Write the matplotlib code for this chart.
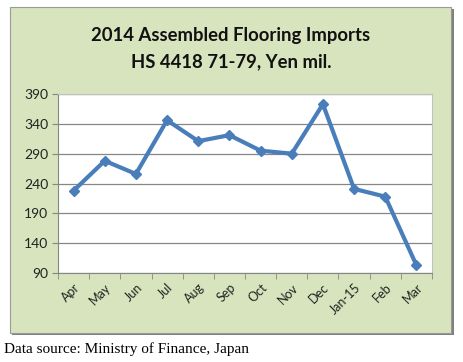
import matplotlib
matplotlib.use('Agg')
import matplotlib.pyplot as plt
from matplotlib.patches import Rectangle

# Monthly imports, Yen mil.
months = ['Apr', 'May', 'Jun', 'Jul', 'Aug', 'Sep', 'Oct', 'Nov', 'Dec',
          'Jan-15', 'Feb', 'Mar']
values = [228, 278, 256, 346, 311, 321, 295, 290, 373, 231, 218, 103]
yticks = [90, 140, 190, 240, 290, 340, 390]

W, H = 463, 362
fig = plt.figure(figsize=(W / 100, H / 100), dpi=100)
fig.patch.set_facecolor('white')

# green chart panel with a gray border and shadow
fig.patches.append(Rectangle((12 / W, 1 - 335 / H), 442 / W, 326 / H,
                             transform=fig.transFigure, facecolor='#7f7f7f',
                             edgecolor='none', zorder=-2))
fig.patches.append(Rectangle((10 / W, 1 - 333 / H), 441 / W, 326 / H,
                             transform=fig.transFigure, facecolor='#d7e4bd',
                             edgecolor='#9a9a9a', linewidth=0.8, zorder=-1))

ax = fig.add_axes([58 / W, 1 - 273 / H, 374 / W, 179 / H])
ax.set_zorder(2)
ax.set_facecolor('white')
x = list(range(len(months)))
ax.plot(x, values, color='#4a7ebb', linewidth=3, marker='D', markersize=5,
        solid_joinstyle='round', zorder=3)

ax.set_xlim(-0.5, len(months) - 0.5)
ax.set_ylim(90, 390)
ax.set_yticks(yticks)
ax.set_yticklabels([str(v) for v in yticks], fontsize=10, family='Lato',
                   color='#222222')
ax.set_xticks(x)
ax.set_xticklabels(months, rotation=45, ha='right', rotation_mode='anchor',
                   fontsize=9, family='Lato', color='#222222')
ax.tick_params(axis='x', length=0, pad=6)
ax.tick_params(axis='y', length=4, color='#868686', pad=3)
# category boundary ticks
ax.set_xticks([i - 0.5 for i in range(len(months) + 1)], minor=True)
ax.tick_params(axis='x', which='minor', length=4, color='#868686')

ax.grid(axis='y', color='#868686', linewidth=0.9)
ax.set_axisbelow(True)
for side in ['top', 'right']:
    ax.spines[side].set_color('#c0c0c0')
for side in ['left', 'bottom']:
    ax.spines[side].set_color('#868686')

fig.text(231 / W, 1 - 35 / H, '2014 Assembled Flooring Imports',
         ha='center', va='center', fontsize=13.3, fontweight='bold',
         family='Lato', color='#111111')
fig.text(231 / W, 1 - 62 / H, 'HS 4418 71-79, Yen mil.',
         ha='center', va='center', fontsize=13.3, fontweight='bold',
         family='Lato', color='#111111')

fig.text(4 / W, 1 - 349 / H, 'Data source: Ministry of Finance, Japan',
         ha='left', va='center', fontsize=11, family='Liberation Serif',
         color='black')

plt.savefig('out.png', dpi=100)
plt.close('all')
